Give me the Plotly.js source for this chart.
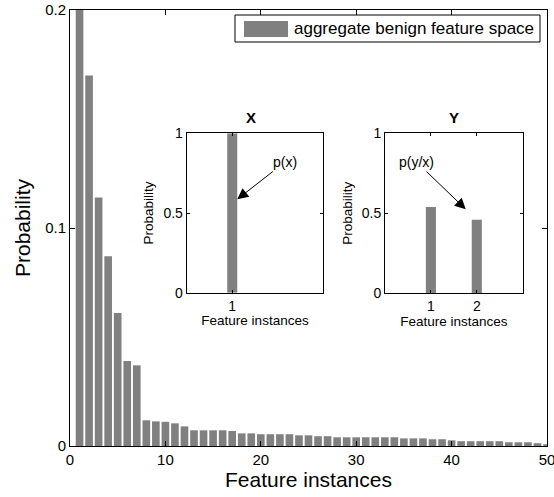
<!DOCTYPE html>
<html>
<head>
<meta charset="utf-8">
<script src="https://cdn.plot.ly/plotly-3.0.1.min.js"></script>
<style>html,body{margin:0;padding:0;background:#fff;}#chart{width:554px;height:497px;}</style>
</head>
<body>
<div id="chart"></div>
<script>
// Main chart data
const featureInstances = [1,2,3,4,5,6,7,8,9,10,11,12,13,14,15,16,17,18,19,20,21,22,23,24,25,26,27,28,29,30,31,32,33,34,35,36,37,38,39,40,41,42,43,44,45,46,47,48,49,50];
const benignProbability = [0.200,0.170,0.114,0.087,0.061,0.039,0.037,0.0118,0.0113,0.0111,0.0104,0.0090,0.0072,0.0072,0.0072,0.0072,0.0069,0.0058,0.0058,0.0054,0.0054,0.0054,0.0054,0.0049,0.0049,0.0045,0.0045,0.0040,0.0040,0.0040,0.0040,0.0040,0.0040,0.0040,0.0035,0.0035,0.0035,0.0031,0.0031,0.0026,0.0022,0.0022,0.0022,0.0022,0.0022,0.0017,0.0017,0.0017,0.0013,0.0008];
const mainXTicks = [0,10,20,30,40,50];
const mainYTicks = [0,0.1,0.2];
const mainYTickLabels = ['0','0.1','0.2'];
const legendLabel = 'aggregate benign feature space';

// Inset X
const insetXInstances = [1];
const insetXProbability = [1.0];
// Inset Y
const insetYInstances = [1,2];
const insetYProbability = [0.54,0.46];
const insetYTicks = [0,0.5,1];
const insetYTickLabels = ['0','0.5','1'];

const FONT = 'Liberation Sans, Arial, Helvetica, sans-serif';
const GRAY = '#808080';

const traces = [
  {type:'bar', x:featureInstances, y:benignProbability, xaxis:'x', yaxis:'y',
   marker:{color:GRAY, line:{width:0}}, width:0.8, name:legendLabel, showlegend:false, hoverinfo:'skip'},
  {type:'bar', x:insetXInstances, y:insetXProbability, xaxis:'x2', yaxis:'y2',
   marker:{color:GRAY, line:{width:0}}, width:0.22, showlegend:false, hoverinfo:'skip'},
  {type:'bar', x:insetYInstances, y:insetYProbability, xaxis:'x3', yaxis:'y3',
   marker:{color:GRAY, line:{width:0}}, width:0.22, showlegend:false, hoverinfo:'skip'}
];

function axisBase(extra){
  return Object.assign({
    showline:true, linecolor:'#000', linewidth:1, mirror:'allticks',
    ticks:'inside', tickcolor:'#000', tickwidth:1,
    showgrid:false, zeroline:false, fixedrange:true, ticklabeloverflow:'allow'
  }, extra);
}

const mainW = 477, mainH = 436, L = 70, T = 10;
function px2fx(px){ return (px - L)/mainW; }
function px2fy(py){ return (T + mainH - py)/mainH; }

const layout = {
  width:554, height:497,
  margin:{l:70, r:7, t:10, b:51, pad:0},
  paper_bgcolor:'#fff', plot_bgcolor:'#fff',
  font:{family:FONT, color:'#000'},
  showlegend:false,
  xaxis: axisBase({domain:[0,1], anchor:'y', range:[0,50], tickvals:mainXTicks, ticklen:5,
    tickfont:{size:15}, title:{text:'Feature instances', font:{size:21}, standoff:4}}),
  yaxis: axisBase({domain:[0,1], anchor:'x', range:[0,0.2], tickvals:mainYTicks, ticktext:mainYTickLabels, ticklen:5,
    tickfont:{size:15}, title:{text:'Probability', font:{size:21}, standoff:8}}),
  xaxis2: axisBase({domain:[px2fx(186.7), px2fx(323.3)], anchor:'y2', range:[0,3], tickvals:[1], ticktext:['1'], ticklen:3,
    tickfont:{size:14}, title:{text:'Feature instances', font:{size:13.5}, standoff:2}}),
  yaxis2: axisBase({domain:[px2fy(292.7), px2fy(133.3)], anchor:'x2', range:[0,1], tickvals:insetYTicks, ticktext:insetYTickLabels, ticklen:3,
    tickfont:{size:14}, title:{text:'Probability', font:{size:13.5}, standoff:6}}),
  xaxis3: axisBase({domain:[px2fx(385), px2fx(522.7)], anchor:'y3', range:[0,3], tickvals:[1,2], ticktext:['1','2'], ticklen:3,
    tickfont:{size:14}, title:{text:'Feature instances', font:{size:13.5}, standoff:2}}),
  yaxis3: axisBase({domain:[px2fy(293.3), px2fy(133.3)], anchor:'x3', range:[0,1], tickvals:insetYTicks, ticktext:insetYTickLabels, ticklen:3,
    tickfont:{size:14}, title:{text:'Probability', font:{size:13.5}, standoff:6}}),
  shapes:[
    {type:'rect', xref:'paper', yref:'paper', x0:px2fx(235), x1:px2fx(540), y0:px2fy(42), y1:px2fy(15),
     line:{color:'#000', width:1}, fillcolor:'#fff', layer:'above'},
    {type:'rect', xref:'paper', yref:'paper', x0:px2fx(244), x1:px2fx(288), y0:px2fy(37), y1:px2fy(21),
     line:{width:0}, fillcolor:GRAY, layer:'above'}
  ],
  annotations:[
    {xref:'paper', yref:'paper', x:px2fx(292), y:px2fy(28.5), xanchor:'left', yanchor:'middle',
     text:legendLabel, showarrow:false, font:{size:17}},
    {xref:'paper', yref:'paper', x:px2fx(251), y:px2fy(118), xanchor:'center', yanchor:'middle',
     text:'<b>X</b>', showarrow:false, font:{size:15}},
    {xref:'paper', yref:'paper', x:px2fx(453.8), y:px2fy(117), xanchor:'center', yanchor:'middle',
     text:'<b>Y</b>', showarrow:false, font:{size:15}},
    {xref:'x2', yref:'y2', x:1.11, y:0.586, axref:'x2', ayref:'y2', ax:2.16, ay:0.82,
     text:'p(x)', showarrow:true, arrowhead:2, arrowsize:2.2, arrowwidth:1, arrowcolor:'#000', font:{size:14}},
    {xref:'x3', yref:'y3', x:1.76, y:0.525, axref:'x3', ayref:'y3', ax:0.69, ay:0.82,
     text:'p(y/x)', showarrow:true, arrowhead:2, arrowsize:2.2, arrowwidth:1, arrowcolor:'#000', font:{size:14}}
  ]
};

Plotly.newPlot('chart', traces, layout, {staticPlot:true, displayModeBar:false});
</script>
</body>
</html>
